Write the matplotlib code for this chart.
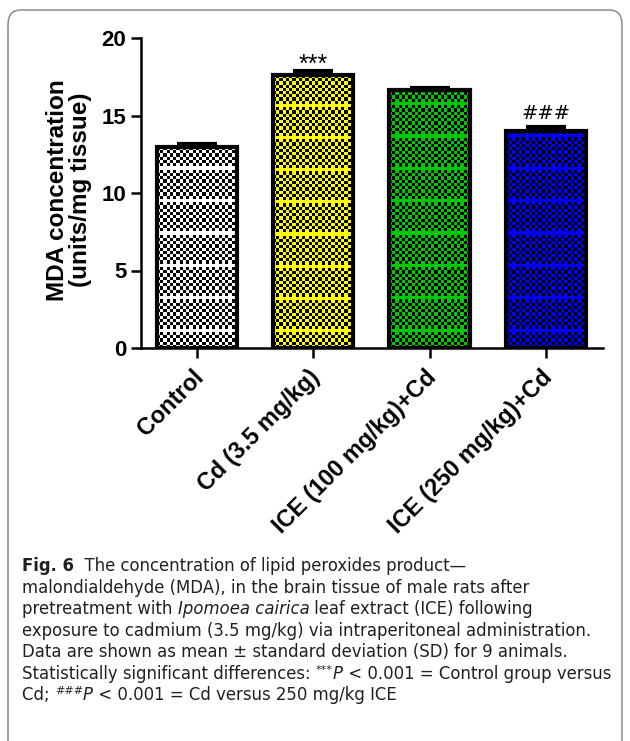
import numpy as np
import matplotlib
matplotlib.use("Agg")
import matplotlib.pyplot as plt
from matplotlib.patches import FancyBboxPatch
from matplotlib.transforms import ScaledTranslation

# dane
groups = ["Control", "Cd (3.5 mg/kg)", "ICE (100 mg/kg)+Cd", "ICE (250 mg/kg)+Cd"]
mda_mean = [12.95, 17.6, 16.65, 14.0]
mda_sd = [0.18, 0.24, 0.12, 0.26]
stars = ["", "***", "", "###"]
fill_colors = ["#ffffff", "#ffff00", "#00c800", "#0000ff"]
yticks = [0, 5, 10, 15, 20]

# podpis: lista linii, każda linia to lista (tekst, styl)
caption = [
    [("Fig. 6", "b"), ("  The concentration of lipid peroxides product—", "n")],
    [("malondialdehyde (MDA), in the brain tissue of male rats after", "n")],
    [("pretreatment with ", "n"), ("Ipomoea cairica", "i"),
     (" leaf extract (ICE) following", "n")],
    [("exposure to cadmium (3.5 mg/kg) via intraperitoneal administration.", "n")],
    [("Data are shown as mean ± standard deviation (SD) for 9 animals.", "n")],
    [("Statistically significant differences: ", "n"), ("***", "sup"), ("P", "i"),
     (" < 0.001 = Control group versus", "n")],
    [("Cd; ", "n"), ("###", "sup"), ("P", "i"), (" < 0.001 = Cd versus 250 mg/kg ICE", "n")],
]

plt.rcParams['font.family'] = 'Liberation Sans'

W, H = 630, 741
fig = plt.figure(figsize=(W / 100, H / 100), dpi=100)

# ramka z zaokrąglonymi rogami
box = FancyBboxPatch((8 / W, -20 / H), 614 / W, 751 / H,
                     boxstyle="round,pad=0,rounding_size=0.02",
                     transform=fig.transFigure, fill=False,
                     edgecolor="#8a8a8a", linewidth=1.1)
fig.patches.append(box)

ax = fig.add_axes([141 / W, 1 - 348 / H, (603 - 141) / W, (348 - 38) / H])
x = np.arange(len(groups))
bars = ax.bar(x, mda_mean, width=0.69, color="none", edgecolor="black",
              linewidth=3, zorder=3)
ax.errorbar(x, mda_mean, yerr=[np.zeros(len(x)), mda_sd], fmt="none",
            ecolor="black", elinewidth=3, capsize=14.5, capthick=3, zorder=4)

ax.set_xlim(-0.48, 3.49)
ax.set_ylim(0, 20)
ax.set_yticks(yticks)

# wypełnienie w szachownicę
fig.canvas.draw()
for bar, col in zip(bars, fill_colors):
    x0, y0 = bar.get_x(), bar.get_y()
    w, h = bar.get_width(), bar.get_height()
    p0 = ax.transData.transform((x0, y0))
    p1 = ax.transData.transform((x0 + w, y0 + h))
    nx = max(int((p1[0] - p0[0]) / 3.2), 1)
    ny = max(int((p1[1] - p0[1]) / 3.2), 1)
    rgb = np.array(matplotlib.colors.to_rgb(col))
    ii, jj = np.meshgrid(np.arange(ny), np.arange(nx), indexing="ij")
    mask = ((ii + jj) % 2 == 0) | (ii % 10 == 5)
    img = np.zeros((ny, nx, 3))
    img[mask] = rgb
    im = ax.imshow(img, extent=(x0, x0 + w, y0, y0 + h), origin="lower",
                   interpolation="nearest", aspect="auto", zorder=2)
    im.set_clip_path(bar)

# gwiazdki / hashe nad słupkami
for xi, m, s, t in zip(x, mda_mean, mda_sd, stars):
    if t == "***":
        ax.annotate(t, (xi, m + s), xytext=(0, 0), textcoords="offset points",
                    ha="center", va="baseline", fontsize=18)
    elif t:
        ax.annotate(t, (xi, m + s), xytext=(0, 5.5), textcoords="offset points",
                    ha="center", va="baseline", fontsize=14, family="DejaVu Sans")

for side in ["top", "right"]:
    ax.spines[side].set_visible(False)
for side in ["left", "bottom"]:
    ax.spines[side].set_linewidth(1.8)
ax.tick_params(axis="both", width=1.8, length=7, labelsize=16)
ax.set_xticks(x)
ax.set_xticklabels(groups, rotation=45, ha="right", va="top",
                   rotation_mode="anchor", fontsize=16.8, fontweight="bold")
shift = ScaledTranslation(-5 / 100, -3 / 100, fig.dpi_scale_trans)
for lab in ax.get_xticklabels():
    lab.set_transform(lab.get_transform() + shift)
for lab in ax.get_yticklabels():
    lab.set_fontweight("bold")

fig.text(69 / W, 1 - 190 / H, "MDA concentration\n(units/mg tissue)",
         rotation=90, ha="center", va="center", fontsize=17.5,
         fontweight="bold", linespacing=1.0)

# podpis pod rysunkiem, składany z kawałków
renderer = fig.canvas.get_renderer()
fs = 11.9
styles = {
    "n": dict(fontsize=fs),
    "b": dict(fontsize=fs, fontweight="bold"),
    "i": dict(fontsize=fs, style="italic"),
    "sup": dict(fontsize=8),
}
sup_raise = 6


def text_width(s, st):
    a = fig.text(0, 0, "|" + s + "|", family="DejaVu Sans", **styles[st])
    b = fig.text(0, 0, "||", family="DejaVu Sans", **styles[st])
    wpx = a.get_window_extent(renderer).width - b.get_window_extent(renderer).width
    a.remove()
    b.remove()
    return wpx


for k, line in enumerate(caption):
    xpx = 22
    ybase = 571 + 21.55 * k
    for s, st in line:
        dy = sup_raise if st == "sup" else 0
        fig.text(xpx / W, 1 - (ybase - dy) / H, s, ha="left", va="baseline",
                 family="DejaVu Sans", color="#231f20", **styles[st])
        xpx += text_width(s, st)

fig.savefig("out.png", dpi=100)
